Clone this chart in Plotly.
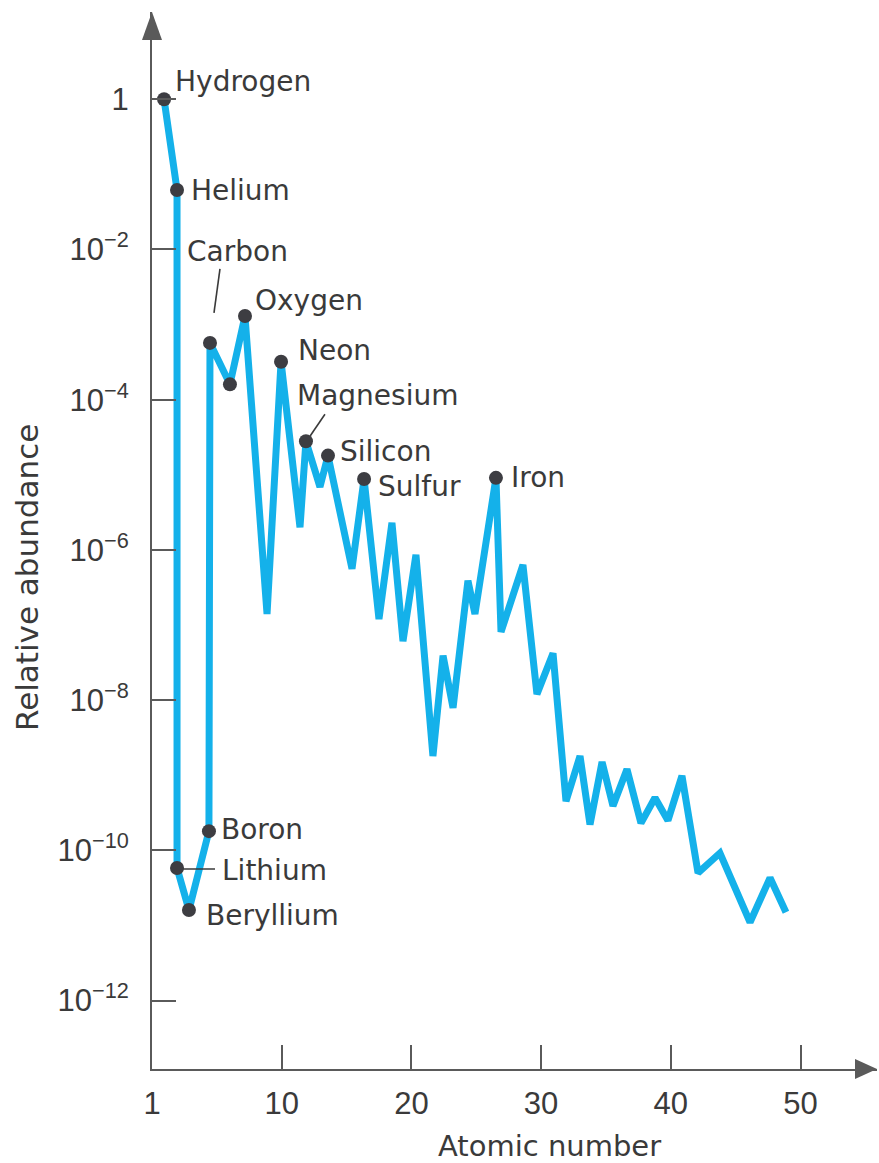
import numpy as np
import plotly.graph_objects as go

# ---------------- data ----------------
atomic_number = [0.93, 1.93, 1.93, 2.85, 4.39, 4.47, 6.01, 7.17, 8.87, 9.95,
                 11.41, 11.87, 12.95, 13.57, 15.42, 16.35, 17.50, 18.50, 19.35, 20.35,
                 21.66, 22.44, 23.21, 24.36, 24.90, 26.52, 26.91, 28.60, 29.68, 30.92,
                 31.92, 33.00, 33.77, 34.70, 35.54, 36.62, 37.70, 38.78, 39.78, 40.86,
                 42.10, 43.79, 46.11, 47.65, 48.88]
relative_abundance = [1.0, 6.2e-2, 5.8e-11, 1.6e-11, 1.8e-10, 5.7e-4, 1.6e-4, 1.3e-3, 1.4e-7, 3.2e-4,
                      2.0e-6, 2.8e-5, 6.9e-6, 1.8e-5, 5.6e-7, 8.8e-6, 1.2e-7, 2.3e-6, 6.1e-8, 8.6e-7,
                      1.8e-9, 3.9e-8, 7.9e-9, 3.9e-7, 1.4e-7, 9.1e-6, 8.1e-8, 6.3e-7, 1.2e-8, 4.2e-8,
                      4.5e-10, 1.8e-9, 2.2e-10, 1.5e-9, 3.9e-10, 1.2e-9, 2.3e-10, 5.0e-10, 2.5e-10, 9.8e-10,
                      5.0e-11, 9.2e-11, 1.1e-11, 4.3e-11, 1.5e-11]

# points that carry a dark dot (index into the arrays above) and their labels
dot_index = [0, 1, 2, 3, 4, 5, 6, 7, 9, 11, 13, 15, 25]
dot_label = ["Hydrogen", "Helium", "Lithium", "Beryllium", "Boron", "Carbon", "",
             "Oxygen", "Neon", "Magnesium", "Silicon", "Sulfur", "Iron"]

x_tick_vals = [0, 10, 20, 30, 40, 50]
x_tick_text = ["1", "10", "20", "30", "40", "50"]
y_tick_vals = [1, 1e-2, 1e-4, 1e-6, 1e-8, 1e-10, 1e-12]
y_tick_text = ["1", "10<sup>\u22122</sup>", "10<sup>\u22124</sup>", "10<sup>\u22126</sup>",
               "10<sup>\u22128</sup>", "10<sup>\u221210</sup>", "10<sup>\u221212</sup>"]

x_title = "Atomic number"
y_title = "Relative abundance"

# ---------------- style ----------------
W, H = 879, 1163
ML, MR, MT, MB = 152, 2, 12, 94
PW, PH = W - ML - MR, H - MT - MB
Y_RANGE = [-12.912, 1.162]
LINE_C = "#14b1ea"
DOT_C = "#3d3d42"
TXT_C = "#3a3a3a"
AX_C = "#5a5a5a"
TXT_FONT = "DejaVu Sans"
TICK_FONT = "Liberation Sans"

# label offsets in pixels (dx to left edge of text, dy up to text centre)
label_shift = {
    "Hydrogen": (9, 18), "Helium": (12, -1), "Lithium": (43, -2),
    "Beryllium": (15, -5), "Boron": (10, 2), "Carbon": (-25, 91),
    "Oxygen": (8, 16), "Neon": (15, 11), "Magnesium": (-11, 46),
    "Silicon": (10, 4), "Sulfur": (12, -8), "Iron": (13, 0),
}
# leader lines in pixels relative to the dot: (x0, y0, x1, y1), y up
leaders = {"Carbon": (4, 30, 10, 74), "Magnesium": (4, 5, 19, 27), "Lithium": (6, -1, 38, -1)}

fig = go.Figure()
fig.add_trace(go.Scatter(
    x=atomic_number, y=relative_abundance, mode="lines",
    line=dict(color=LINE_C, width=7), hoverinfo="skip", showlegend=False))
fig.add_trace(go.Scatter(
    x=[atomic_number[i] for i in dot_index], y=[relative_abundance[i] for i in dot_index],
    mode="markers", marker=dict(color=DOT_C, size=14, line=dict(width=0)),
    hoverinfo="skip", showlegend=False))

ann = []
shapes = []
for i, name in zip(dot_index, dot_label):
    if not name:
        continue
    dx, dy = label_shift[name]
    ann.append(dict(x=atomic_number[i], y=np.log10(relative_abundance[i]), xref="x", yref="y",
                    text=name, showarrow=False, xanchor="left", yanchor="middle",
                    xshift=dx, yshift=dy, font=dict(family=TXT_FONT, size=28, color=TXT_C)))
    if name in leaders:
        x0, y0, x1, y1 = leaders[name]
        y_paper = (np.log10(relative_abundance[i]) - Y_RANGE[0]) / (Y_RANGE[1] - Y_RANGE[0])
        shapes.append(dict(type="line", xref="x", yref="paper",
                           xsizemode="pixel", ysizemode="pixel",
                           xanchor=atomic_number[i], yanchor=y_paper,
                           x0=x0, y0=y0, x1=x1, y1=y1,
                           line=dict(color=TXT_C, width=1.6)))

ann.append(dict(x=(549 - ML) / PW, y=(H - MB - 1146) / PH, xref="paper", yref="paper",
                text=x_title, showarrow=False, xanchor="center", yanchor="middle",
                font=dict(family=TXT_FONT, size=29, color=TXT_C)))
ann.append(dict(x=(27 - ML) / PW, y=(H - MB - 578) / PH, xref="paper", yref="paper",
                text=y_title, showarrow=False, xanchor="center", yanchor="middle", textangle=-90,
                font=dict(family=TXT_FONT, size=31, color=TXT_C)))

# arrow heads at the ends of the axes
ax_len = 22 / PW
ay_len = 28 / PH
hw_x = 10 / PW
hw_y = 10 / PH
shapes += [
    dict(type="path", xref="paper", yref="paper",
         path=f"M 1 0 L {1 - ax_len} {hw_y} L {1 - ax_len} {-hw_y} Z",
         fillcolor=AX_C, line=dict(width=0)),
    dict(type="path", xref="paper", yref="paper",
         path=f"M 0 1 L {hw_x} {1 - ay_len} L {-hw_x} {1 - ay_len} Z",
         fillcolor=AX_C, line=dict(width=0)),
]

fig.update_layout(
    width=W, height=H, margin=dict(l=ML, r=MR, t=MT, b=MB),
    paper_bgcolor="white", plot_bgcolor="white",
    annotations=ann, shapes=shapes, showlegend=False,
    xaxis=dict(range=[0, PW / 12.97], showgrid=False, zeroline=False,
               showline=True, linecolor=AX_C, linewidth=2,
               tickmode="array", tickvals=x_tick_vals, ticktext=x_tick_text,
               ticks="inside", ticklen=24, tickwidth=2, tickcolor=AX_C,
               ticklabelstandoff=6,
               tickfont=dict(family=TICK_FONT, size=31, color=TXT_C)),
    yaxis=dict(type="log", range=Y_RANGE, showgrid=False, zeroline=False,
               showline=True, linecolor=AX_C, linewidth=2,
               tickmode="array", tickvals=y_tick_vals, ticktext=y_tick_text,
               ticks="inside", ticklen=24, tickwidth=2, tickcolor=AX_C,
               ticklabelstandoff=15,
               tickfont=dict(family=TICK_FONT, size=31, color=TXT_C)),
)

fig.write_html("out.html", config={"displayModeBar": False},
               post_script="document.body.style.margin='0';")
